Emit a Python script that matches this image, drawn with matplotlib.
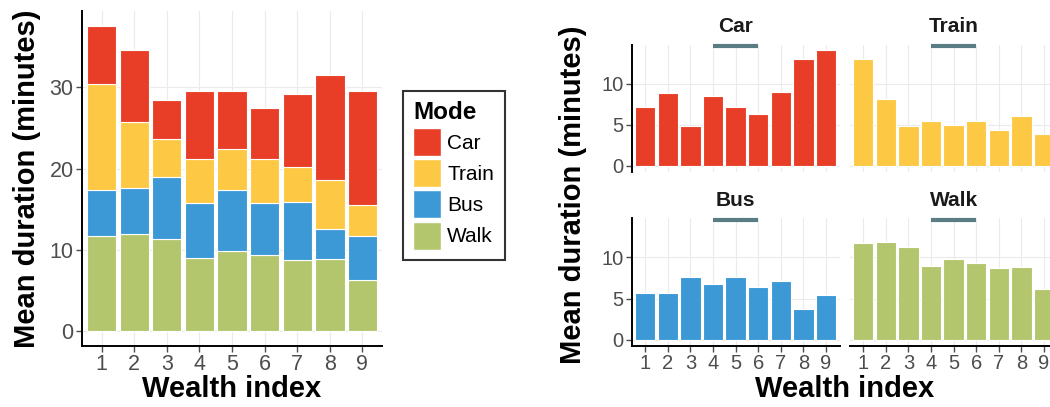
import numpy as np
import matplotlib
matplotlib.use("Agg")
import matplotlib.pyplot as plt
from matplotlib.patches import Patch
import matplotlib.transforms as mtransforms

# mean durations (minutes) by wealth index
wealth = [1, 2, 3, 4, 5, 6, 7, 8, 9]
car = [7.2, 8.85, 4.8, 8.45, 7.2, 6.25, 8.95, 12.95, 14.05]
train = [13.0, 8.1, 4.8, 5.4, 5.0, 5.45, 4.35, 6.0, 3.85]
bus = [5.7, 5.75, 7.6, 6.75, 7.6, 6.45, 7.1, 3.7, 5.5]
walk = [11.7, 11.9, 11.3, 9.0, 9.8, 9.3, 8.75, 8.85, 6.2]

modes = ["Car", "Train", "Bus", "Walk"]
colors = {"Car": "#E83E28", "Train": "#FDC843", "Bus": "#3C99D6", "Walk": "#B3C66E"}
values = {"Car": car, "Train": train, "Bus": bus, "Walk": walk}

plt.rcParams['font.family'] = ['Liberation Sans', 'DejaVu Sans']
W, H = 1050, 407
fig = plt.figure(figsize=(W / 100, H / 100), dpi=100)

def px_axes(x0, y0, x1, y1):
    return fig.add_axes([x0 / W, 1 - y1 / H, (x1 - x0) / W, (y1 - y0) / H])

tick_col = "#4D4D4D"
grid_col = "#EBEBEB"

def style(ax, left=True, bottom=True, size=15.5):
    for s in ax.spines.values():
        s.set_visible(False)
    ax.spines["left"].set_visible(left)
    ax.spines["bottom"].set_visible(bottom)
    for s in ("left", "bottom"):
        ax.spines[s].set_linewidth(1.4)
        ax.spines[s].set_color("black")
    ax.grid(True, color=grid_col, lw=0.8)
    ax.set_axisbelow(True)
    ax.tick_params(axis="both", labelsize=size, colors=tick_col, length=4, width=1.0, pad=2)
    ax.tick_params(axis="y", left=left, labelleft=left)
    ax.tick_params(axis="x", bottom=bottom, labelbottom=bottom)
    ax.set_xlim(0.4, 9.6)
    ax.set_xticks(wealth)

x = np.array(wealth)

# ---- left: stacked bars
ax = px_axes(82, 10.5, 382, 346)
style(ax)
bottom = np.zeros(len(wealth))
for m in ["Walk", "Bus", "Train", "Car"]:
    v = np.array(values[m])
    ax.bar(x, v, 0.9, bottom=bottom, color=colors[m], edgecolor="white", lw=0.8)
    bottom += v
top = bottom.max()
ax.set_ylim(-0.05 * top, 1.05 * top)
ax.set_yticks([0, 10, 20, 30])
ax.set_ylabel("Mean duration (minutes)", fontsize=21, fontweight="bold", labelpad=6)
ax.set_xlabel("Wealth index", fontsize=21, fontweight="bold", labelpad=0)

handles = [Patch(facecolor=colors[m], edgecolor="white", label=m) for m in modes]
leg = fig.legend(handles=handles, title="Mode", loc="upper left",
                 bbox_to_anchor=(402.7 / W, 1 - 91 / H), fontsize=15,
                 title_fontproperties={"weight": "bold", "size": 17.5},
                 frameon=True, fancybox=False, edgecolor="black",
                 handlelength=1.34, handleheight=1.69, labelspacing=0.16,
                 handletextpad=0.3, borderpad=0.5, borderaxespad=0)
leg.get_frame().set_linewidth(1.5)
leg._legend_box.align = "left"

# ---- right: facets
fmax = max(max(values[m]) for m in modes)
panels = {
    "Car": (631.7, 44.5, 839.6, 171.5),
    "Train": (849.7, 44.5, 1057.6, 171.5),
    "Bus": (631.7, 218.3, 839.6, 345.7),
    "Walk": (849.7, 218.3, 1057.6, 345.7),
}
for i, m in enumerate(modes):
    x0, y0, x1, y1 = panels[m]
    a = px_axes(x0, y0, x1, y1)
    left = i % 2 == 0
    bot = i >= 2
    style(a, left=left, bottom=bot, size=14.5)
    a.bar(x, values[m], 0.9, color=colors[m], edgecolor="white", lw=0.8)
    a.set_ylim(-0.05 * fmax, 1.05 * fmax)
    a.set_yticks([0, 5, 10])
    ph = y1 - y0
    a.text(0.5, 1 + 18 / ph, m, transform=a.transAxes, ha="center", va="center",
           fontsize=15, fontweight="bold", color="#1A1A1A")
    tr = mtransforms.blended_transform_factory(a.transData, a.transAxes)
    a.plot([4, 6], [1 - 1.5 / ph, 1 - 1.5 / ph], transform=tr, color="#5A7D84",
           lw=3, solid_capstyle="butt", clip_on=False)

fig.text(573 / W, 1 - 195 / H, "Mean duration (minutes)", rotation=90,
         ha="center", va="center", fontsize=21, fontweight="bold")
fig.text(845 / W, 1 - 389 / H, "Wealth index", ha="center", va="center",
         fontsize=21, fontweight="bold")

fig.savefig("out.png", dpi=100)
